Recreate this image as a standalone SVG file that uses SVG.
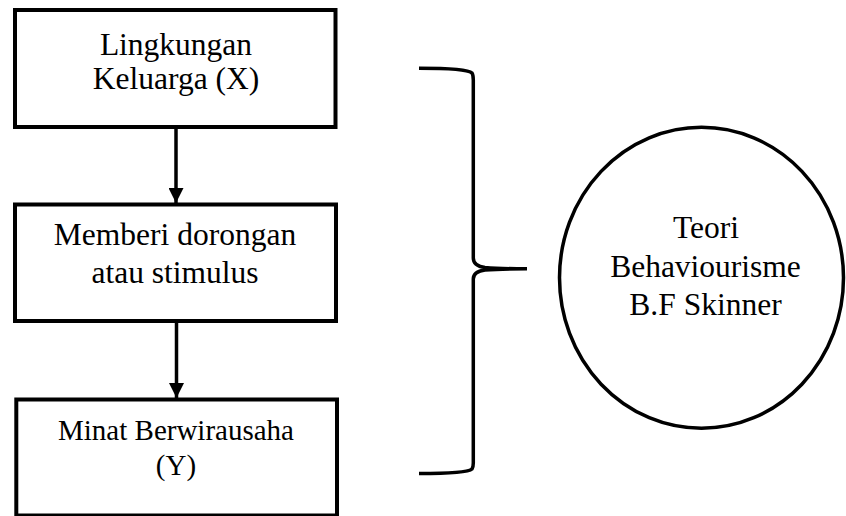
<svg xmlns="http://www.w3.org/2000/svg" width="846" height="516" viewBox="0 0 846 516">
<style>
.box{fill:#fff;stroke:#000;stroke-width:4}
.t{font-family:"Liberation Serif","Times New Roman",serif;font-size:31.5px;fill:#000;text-anchor:middle}
.t2{font-family:"Liberation Serif","Times New Roman",serif;font-size:29px;fill:#000;text-anchor:middle}
.ln{stroke:#000;stroke-width:3.5;fill:none}
.br{stroke:#000;stroke-width:3.5;fill:none;stroke-linecap:butt}
</style>
<defs>
<marker id="ah" markerWidth="15" markerHeight="15" viewBox="0 0 15 15" refX="15" refY="7.5" orient="auto" markerUnits="userSpaceOnUse">
<path d="M0,0 L15,7.5 L0,15 Z" fill="#000"/>
</marker>
</defs>
<rect width="846" height="516" fill="#fff"/>
<g id="connectors">
<line class="ln" x1="176" y1="128" x2="176" y2="203" marker-end="url(#ah)"/>
<line class="ln" x1="176.5" y1="322" x2="176.5" y2="398" marker-end="url(#ah)"/>
</g>
<g id="node-lingkungan">
<rect class="box" x="15" y="10" width="320.5" height="117"/>
<text class="t" x="176" y="54.5">Lingkungan</text>
<text class="t" x="176" y="88.5">Keluarga (X)</text>
</g>
<g id="node-memberi">
<rect class="box" x="15" y="204.5" width="321" height="116.5"/>
<text class="t" x="175" y="245">Memberi dorongan</text>
<text class="t" x="175" y="283">atau stimulus</text>
</g>
<g id="node-minat">
<rect class="box" x="16.3" y="399.5" width="320.7" height="116"/>
<text class="t2" x="176" y="439.5">Minat Berwirausaha</text>
<text class="t2" x="176" y="475">(Y)</text>
</g>
<g id="brace">
<path class="br" d="M419,68.3 Q467,68.3 472,73 Q473.3,75 473.3,80 L473.3,258 Q473.3,266 485,267.5 Q500,268.8 527,268.8 Q500,268.8 485,270 Q473.3,271.5 473.3,279 L473.3,463 Q473.3,467 472,469 Q467,473.5 419,473.5"/>
</g>
<g id="node-teori">
<ellipse cx="701.5" cy="277.8" rx="142" ry="150.5" fill="#fff" stroke="#000" stroke-width="3.5"/>
<text class="t" x="706" y="238.3">Teori</text>
<text class="t" x="705.5" y="276.7">Behaviourisme</text>
<text class="t" x="705.5" y="315">B.F Skinner</text>
</g>
</svg>
